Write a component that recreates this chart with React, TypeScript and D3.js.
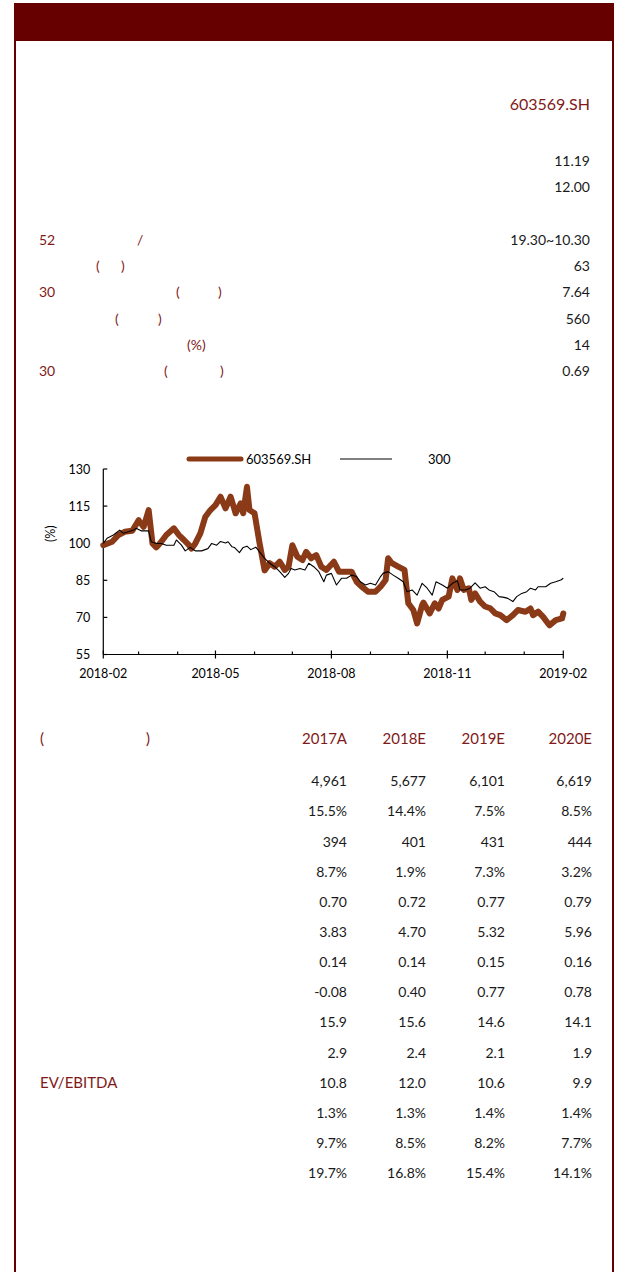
import React from "react";
import * as d3 from "d3";

// ---------- data ----------
const tickerName = "603569.SH";
const indexName = "300";

const summaryValues = ["11.19", "12.00"];
const statValues = ["19.30~10.30", "63", "7.64", "560", "14", "0.69"];

const years = ["2017A", "2018E", "2019E", "2020E"];
const tableRows: string[][] = [
  ["4,961", "5,677", "6,101", "6,619"],
  ["15.5%", "14.4%", "7.5%", "8.5%"],
  ["394", "401", "431", "444"],
  ["8.7%", "1.9%", "7.3%", "3.2%"],
  ["0.70", "0.72", "0.77", "0.79"],
  ["3.83", "4.70", "5.32", "5.96"],
  ["0.14", "0.14", "0.15", "0.16"],
  ["-0.08", "0.40", "0.77", "0.78"],
  ["15.9", "15.6", "14.6", "14.1"],
  ["2.9", "2.4", "2.1", "1.9"],
  ["10.8", "12.0", "10.6", "9.9"],
  ["1.3%", "1.3%", "1.4%", "1.4%"],
  ["9.7%", "8.5%", "8.2%", "7.7%"],
  ["19.7%", "16.8%", "15.4%", "14.1%"],
];
const rowLabels = ["", "", "", "", "", "", "", "", "", "", "EV/EBITDA", "", "", ""];

const yTicks = [55, 70, 85, 100, 115, 130];

// days since 2018-02-01, relative performance (%)
const stockDays = [0, 7, 12, 17, 23, 28, 32, 36, 39, 42, 46, 50, 56, 60, 64, 68, 70, 73, 77, 81, 85, 89, 93, 97, 101, 105, 109, 111, 114, 116, 120, 124, 128, 132, 136, 140, 144, 147, 150, 154, 158, 161, 165, 169, 173, 177, 183, 187, 192, 197, 201, 205, 210, 216, 220, 224, 226, 229, 234, 239, 242, 246, 249, 253, 254, 259, 263, 266, 269, 274, 277, 281, 283, 286, 290, 292, 295, 299, 303, 307, 311, 315, 320, 325, 329, 335, 339, 341, 345, 349, 354, 359, 364, 365];
const stockValues = [99.2, 100.6, 103.3, 104.6, 105.0, 109.3, 106.6, 113.4, 99.9, 98.3, 100.6, 103.3, 106.0, 103.3, 101.3, 99.2, 97.8, 99.9, 104.0, 110.7, 113.4, 115.4, 118.8, 114.1, 118.8, 112.1, 116.1, 112.1, 122.8, 113.4, 112.1, 100.0, 89.0, 91.9, 90.5, 92.5, 89.2, 90.5, 99.2, 94.5, 93.2, 96.5, 93.9, 95.2, 90.5, 89.2, 92.5, 88.5, 88.5, 88.5, 84.4, 82.4, 80.4, 80.4, 82.4, 85.1, 93.9, 91.9, 90.5, 89.2, 75.7, 73.0, 67.6, 75.0, 76.0, 71.6, 75.7, 73.6, 77.1, 78.4, 85.8, 81.1, 85.8, 81.1, 81.8, 77.1, 79.7, 76.4, 74.4, 73.7, 71.6, 70.9, 68.9, 70.9, 73.0, 72.3, 73.6, 70.9, 72.3, 70.2, 66.8, 68.9, 69.6, 71.6];

const indexDays = [0, 3, 8, 13, 16, 20, 24, 26, 30, 36, 38, 42, 46, 50, 56, 58, 62, 65, 69, 73, 78, 83, 86, 90, 93, 97, 99, 102, 104, 108, 111, 114, 117, 121, 124, 128, 132, 136, 140, 144, 147, 149, 152, 156, 160, 163, 167, 171, 175, 177, 181, 185, 189, 193, 197, 201, 204, 208, 212, 216, 220, 222, 226, 230, 234, 238, 241, 245, 249, 253, 257, 261, 264, 269, 273, 277, 281, 283, 287, 291, 295, 299, 303, 306, 310, 314, 318, 321, 325, 328, 332, 336, 339, 343, 345, 351, 355, 359, 363, 365];
const indexValues = [99.9, 102.0, 103.3, 105.3, 104.0, 104.6, 105.3, 106.0, 105.0, 105.0, 100.6, 99.9, 99.9, 99.2, 99.2, 101.3, 99.2, 96.9, 98.3, 96.9, 96.9, 97.8, 99.9, 99.2, 100.7, 100.1, 100.6, 98.6, 98.3, 96.2, 98.3, 98.8, 97.4, 98.4, 96.5, 93.9, 91.9, 90.5, 88.5, 86.2, 87.8, 89.8, 89.2, 89.8, 89.2, 91.9, 90.5, 88.5, 84.4, 87.1, 87.8, 83.1, 85.8, 85.8, 87.1, 86.5, 84.4, 83.1, 83.8, 83.1, 86.5, 87.8, 88.5, 87.1, 85.8, 84.4, 80.4, 81.1, 79.0, 83.8, 81.8, 79.0, 84.4, 83.1, 81.8, 83.8, 84.8, 81.1, 81.1, 81.8, 84.0, 81.8, 82.4, 81.1, 80.4, 78.4, 78.1, 77.7, 76.4, 78.4, 79.7, 80.4, 81.8, 81.1, 82.4, 82.4, 83.8, 84.4, 85.1, 85.8];

// ---------- style ----------
const FONT = "Lato, 'Open Sans', sans-serif";
const RED = "#7f1a1a";
const BAR = "#660000";
const BROWN = "#8b3a17";
const TXT = "#1a1a1a";

const W = 621;
const H = 1272;

export default function App() {
  const start = new Date(2018, 1, 1);
  const end = new Date(2019, 1, 1);
  const x = d3.scaleTime().domain([start, end]).range([103.3, 563.3]);
  const y = d3.scaleLinear().domain([55, 130]).range([654.5, 469]);

  const toPts = (days: number[], vals: number[]) =>
    days.map((d, i) => ({ date: d3.timeDay.offset(start, d), v: vals[i] }));
  const line = d3
    .line<{ date: Date; v: number }>()
    .x((d) => x(d.date))
    .y((d) => y(d.v));

  const stockPath = line(toPts(stockDays, stockValues)) || "";
  const indexPath = line(toPts(indexDays, indexValues)) || "";

  const months = d3.timeMonth.range(start, d3.timeMonth.offset(end, 1));
  const fmt = d3.timeFormat("%Y-%m");

  const colRight = [347, 426, 505, 592];
  const rowY = (i: number) => 780.7 + i * 30.15;

  return (
    <div style={{ position: "absolute", left: 0, top: 0 }}>
      <svg width={W} height={H} style={{ display: "block", fontFamily: FONT }}>
        <rect x={0} y={0} width={W} height={H} fill="#fff" />
        {/* frame */}
        <rect x={14} y={3} width={600} height={38} fill={BAR} />
        <rect x={14} y={40} width={2} height={H - 40} fill={BAR} />
        <rect x={612} y={40} width={2} height={H - 40} fill={BAR} />

        {/* top info */}
        <text x={590} y={103} textAnchor="end" dominantBaseline="central" fontSize={16} fill={RED}>
          {tickerName}
        </text>
        {summaryValues.map((v, i) => (
          <text key={"s" + i} x={590} y={160 + i * 26} textAnchor="end" dominantBaseline="central" fontSize={14} fill={TXT}>
            {v}
          </text>
        ))}
        {statValues.map((v, i) => (
          <text key={"t" + i} x={590} y={239.3 + i * 26.3} textAnchor="end" dominantBaseline="central" fontSize={14} fill={TXT}>
            {v}
          </text>
        ))}
        <g fontSize={14} fill={RED} dominantBaseline="central">
          <text x={39} y={239.3}>52</text>
          <text x={137} y={239.3}>/</text>
          <text x={96} y={265.6}>(</text>
          <text x={121} y={265.6}>)</text>
          <text x={39} y={291.9}>30</text>
          <text x={176} y={291.9}>(</text>
          <text x={218} y={291.9}>)</text>
          <text x={115} y={318.2}>(</text>
          <text x={158} y={318.2}>)</text>
          <text x={187} y={344.5}>(%)</text>
          <text x={39} y={370.8}>30</text>
          <text x={164} y={370.8}>(</text>
          <text x={220} y={370.8}>)</text>
        </g>

        {/* legend */}
        <line x1={189} x2={241} y1={459} y2={459} stroke={BROWN} strokeWidth={5} strokeLinecap="round" />
        <text x={246} y={459} dominantBaseline="central" fontSize={13} fill="#000">
          {tickerName}
        </text>
        <line x1={340} x2={392} y1={459} y2={459} stroke="#000" strokeWidth={1} />
        <text x={428} y={459} dominantBaseline="central" fontSize={13} fill="#000">
          {indexName}
        </text>

        {/* axes */}
        <g stroke="#000" strokeWidth={1.2} fill="none">
          <line x1={x(start)} x2={x(start)} y1={y(130)} y2={y(55)} />
          <line x1={x(start)} x2={x(end)} y1={y(55)} y2={y(55)} />
          {yTicks.map((t) => (
            <line key={"yt" + t} x1={x(start)} x2={x(start) + 4} y1={y(t)} y2={y(t)} />
          ))}
          {months.map((m, i) => (
            <line key={"xt" + i} x1={x(m)} x2={x(m)} y1={y(55) - (i % 3 === 0 ? 4 : 3)} y2={y(55) + (i % 3 === 0 ? 4 : 0)} />
          ))}
        </g>
        {yTicks.map((t) => (
          <text key={"yl" + t} x={x(start) - 13} y={y(t)} textAnchor="end" dominantBaseline="central" fontSize={12.5} fill="#000">
            {t}
          </text>
        ))}
        {months
          .filter((_, i) => i % 3 === 0)
          .map((m, i) => (
            <text key={"xl" + i} x={x(m)} y={673} textAnchor="middle" dominantBaseline="central" fontSize={12.5} fill="#000">
              {fmt(m)}
            </text>
          ))}
        <text
          transform={`translate(50, ${(y(130) + y(55)) / 2 - 28}) rotate(-90)`}
          textAnchor="middle"
          dominantBaseline="central"
          fontSize={12.5}
          fill="#000"
        >
          (%)
        </text>

        {/* series */}
        <path d={stockPath} fill="none" stroke={BROWN} strokeWidth={6} strokeLinejoin="round" strokeLinecap="round" />
        <path d={indexPath} fill="none" stroke="#000" strokeWidth={1.1} strokeLinejoin="round" />

        {/* table */}
        <g fontSize={15} fill={RED} dominantBaseline="central">
          <text x={40} y={738}>(</text>
          <text x={146} y={738}>)</text>
          {years.map((yr, i) => (
            <text key={yr} x={colRight[i]} y={738} textAnchor="end">
              {yr}
            </text>
          ))}
        </g>
        {tableRows.map((row, r) => (
          <g key={"r" + r} fontSize={14} dominantBaseline="central">
            {rowLabels[r] && (
              <text x={40} y={rowY(r)} fill={RED} fontSize={15}>
                {rowLabels[r]}
              </text>
            )}
            {row.map((v, c) => (
              <text key={c} x={colRight[c]} y={rowY(r)} textAnchor="end" fill={TXT}>
                {v}
              </text>
            ))}
          </g>
        ))}
      </svg>
    </div>
  );
}
